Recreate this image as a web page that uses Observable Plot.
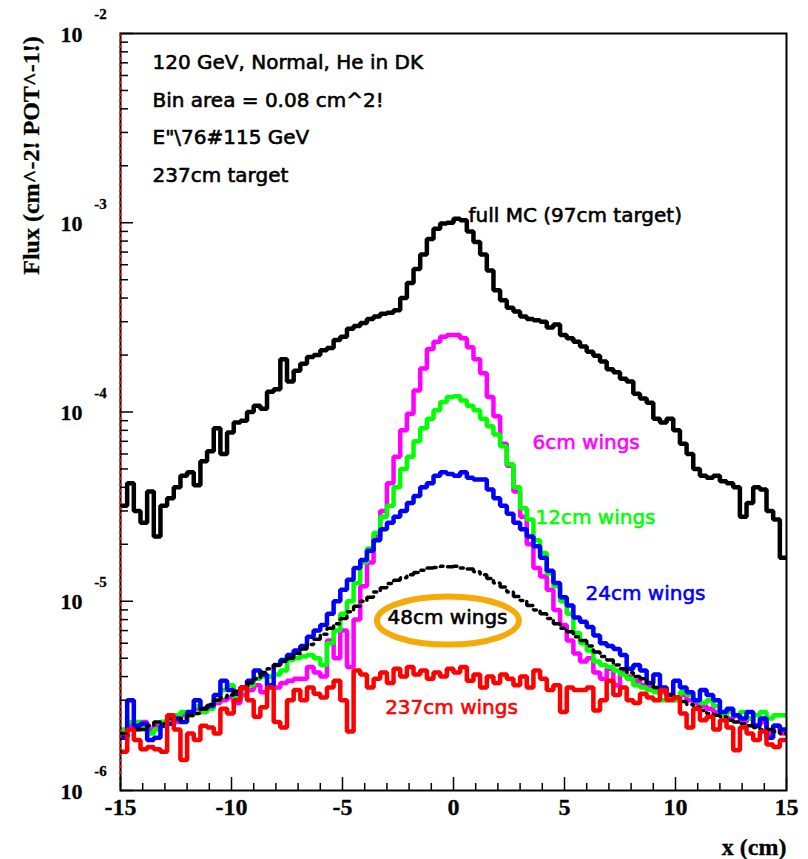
<!DOCTYPE html>
<html><head><meta charset="utf-8">
<script src="https://cdn.jsdelivr.net/npm/d3@7"></script>
<script src="https://cdn.jsdelivr.net/npm/@observablehq/plot@0.6"></script>
<style>body{margin:0;background:#fff} #chart svg{display:block}</style>
</head><body><div id="chart"></div>
<script>
// flux values in units of 1e-6 cm^-2 POT^-1, 100 bins of 0.3 cm from -15 to 15
const fullMC = [32,42,30,26,38,22,32,35,40,46,
 48,41,55,62,82,60,78,88,90,100,
 108,104,128,132,190,145,165,180,195,200,
 212,218,240,250,275,285,295,310,320,330,
 335,345,400,480,570,680,820,930,990,1000,
 1050,1030,900,790,680,560,440,390,355,340,
 320,310,305,300,280,290,255,245,235,222,
 208,198,185,168,162,150,145,125,118,112,
 92,88,92,80,68,60,50,46,45,46,
 43,42,40,28,33,40,39,30,27,17];
const wings6 = [2.0,2.2,2.1,2.3,2.1,2.2,2.3,2.4,2.3,2.5,
 2.5,2.7,2.6,2.8,2.9,3.0,3.1,2.9,3.2,3.4,
 3.6,3.3,3.6,3.5,3.7,3.8,3.9,3.9,4.5,4.2,
 4.0,6.2,5.0,7.0,4.5,8.0,12,16,22,30,
 42,58,80,98,130,170,215,235,250,255,
 255,245,220,190,160,120,95,68,52,38,
 28,20,15,13.5,11.5,9,7.5,6.2,5.3,4.8,
 5.0,4.2,3.9,4.4,3.6,4.3,4.0,3.8,3.6,3.5,
 3.4,3.3,3.2,3.1,3.2,3.0,2.9,2.8,2.7,2.6,
 2.5,2.4,2.5,2.3,2.4,2.2,2.3,2.0,2.2,2.0];
const wings12 = [2.1,2.3,2.3,2.2,2.0,2.1,2.3,2.4,2.5,2.6,
 2.5,2.8,2.6,2.7,3.0,3.4,3.6,3.1,3.4,3.6,
 3.9,4.0,4.0,4.1,4.3,4.9,5.0,5.1,5.2,5.0,
 4.6,6.0,7.0,8.6,10,12.5,16,19,23,28,
 32,40,50,58,70,82,92,102,113,120,
 121,115,108,102,92,84,76,66,53,40,
 31,27,21,18,14,12,10,8.6,6.8,6.0,
 5.5,4.8,4.6,4.5,4.3,4.1,3.9,3.6,3.5,3.4,
 3.3,3.0,3.2,3.0,3.3,3.2,3.0,2.9,3.0,2.8,
 2.5,2.6,2.5,2.6,2.4,2.5,2.6,2.4,2.5,2.5];
const wings24 = [1.9,3.0,2.2,2.25,1.85,1.9,2.2,2.25,2.4,2.3,
 2.6,3.0,2.7,2.8,3.2,3.8,3.4,3.25,3.5,3.8,
 4.3,4.1,3.6,4.6,4.9,5.2,5.5,5.8,6.5,7.0,
 7.5,8.6,10,11.5,13,15,16.5,18.5,21,24,
 26,28,30,33,36,40,42,46,48,47,
 46,48,45,44,44,39,35,32,29,26,
 24,22,19.5,17,14.5,12.5,10.5,9.5,8.2,7.8,
 7.3,6.6,6.0,5.8,5.6,5.2,4.4,4.6,4.3,3.7,
 4.1,3.5,3.2,3.8,3.5,3.3,3.0,3.4,3.2,3.0,
 2.6,2.7,2.5,2.4,2.6,2.2,2.4,1.9,2.2,2.1];
const wings48 = [2.0,1.95,2.1,2.1,2.2,2.3,2.25,2.4,2.35,2.4,
 2.5,2.55,2.7,2.85,3.0,3.1,3.2,3.35,3.5,3.7,
 3.9,4.2,4.4,4.6,4.8,5.0,5.3,5.6,5.9,6.3,
 6.7,7.2,7.6,8.1,8.8,9.4,10.0,10.5,11.2,11.8,
 12.4,12.9,13.3,13.8,14.2,14.6,15.0,15.1,15.3,15.2,
 15.3,15.0,14.8,14.3,13.8,13.2,12.5,11.9,11.2,10.6,
 10.1,9.5,9.0,8.6,8.1,7.6,7.2,6.9,6.5,6.2,
 5.8,5.4,5.1,4.9,4.6,4.4,4.2,4.0,3.9,3.7,
 3.5,3.4,3.2,3.1,2.95,2.85,2.75,2.65,2.55,2.5,
 2.45,2.35,2.3,2.25,2.2,2.15,2.1,2.1,2.05,2.0];
const wings237 = [1.6,2.1,1.85,1.65,1.7,1.65,1.6,2.5,2.1,1.45,
 2.0,1.85,2.2,2.15,2.0,2.7,2.55,3.0,3.5,3.0,
 2.45,2.75,3.5,2.3,2.15,3.0,3.4,3.0,3.5,3.25,
 3.1,3.5,3.8,3.0,2.05,4.3,4.1,3.5,3.9,4.2,
 3.7,4.4,4.0,4.5,4.1,4.3,3.9,4.2,4.0,4.4,
 4.2,4.5,3.8,4.1,3.5,4.0,3.7,4.1,3.9,3.6,
 4.0,3.5,4.3,3.9,3.4,3.6,2.6,3.5,3.4,3.4,
 3.5,2.65,3.0,3.8,3.2,3.5,3.0,2.9,3.25,3.1,
 3.0,3.4,3.0,3.1,2.55,2.15,2.7,2.35,2.45,2.1,
 2.35,2.15,1.63,2.15,2.0,1.85,2.05,1.75,1.7,1.85];

const xMin = -15, xMax = 15, binWidth = 0.3;
const xMajorTicks = [-15, -10, -5, 0, 5, 10, 15];
const yDecades = [1e-6, 1e-5, 1e-4, 1e-3, 1e-2];
const yExponents = ["-6", "-5", "-4", "-3", "-2"];
const headerLines = ["120 GeV, Normal, He in DK", "Bin area = 0.08 cm^2!", 'E"\\76#115 GeV', "237cm target"];

const xMinorTicks = d3.range(xMin, xMax + 1).filter(v => !xMajorTicks.includes(v));
const yMinorTicks = [];
for (const d of yDecades.slice(0, -1)) for (let k = 2; k <= 9; k++) yMinorTicks.push(k * d);

function hist(vals) {
  const pts = vals.map((v, i) => ({x: xMin + binWidth * i, y: v * 1e-6}));
  pts.push({x: xMax, y: vals[vals.length - 1] * 1e-6});
  return pts;
}

const SANS = "DejaVu Sans, sans-serif";
const SERIF = "Liberation Serif, Times New Roman, serif";

const ellipseSymbol = {
  draw(ctx) {
    const rx = 71, ry = 24, k = 0.5523;
    ctx.moveTo(rx, 0);
    ctx.bezierCurveTo(rx, ry * k, rx * k, ry, 0, ry);
    ctx.bezierCurveTo(-rx * k, ry, -rx, ry * k, -rx, 0);
    ctx.bezierCurveTo(-rx, -ry * k, -rx * k, -ry, 0, -ry);
    ctx.bezierCurveTo(rx * k, -ry, rx, -ry * k, rx, 0);
    ctx.closePath();
  }
};

const step = (vals, opts) => Plot.line(hist(vals), {x: "x", y: "y", curve: "step-after", clip: true, strokeLinejoin: "miter", ...opts});
const label = (t, dx, dy, color, anchor = "start") => Plot.text([t], {frameAnchor: "top-left", dx, dy, text: d => d, fill: color, stroke: color, strokeWidth: 0.6, fontFamily: SANS, fontSize: 20, textAnchor: anchor, lineAnchor: "middle"});
const serifText = (opts) => ({fontFamily: SERIF, fontWeight: "bold", fill: "black", stroke: "black", strokeWidth: 0.3, lineAnchor: "middle", ...opts});

const chart = Plot.plot({
  width: 808, height: 859,
  marginLeft: 120, marginRight: 22, marginTop: 33, marginBottom: 69,
  style: {background: "white", overflow: "visible"},
  x: {domain: [xMin, xMax], axis: null},
  y: {type: "log", domain: [1e-6, 1e-2], axis: null},
  marks: [
    step(fullMC, {stroke: "black", strokeWidth: 4.5}),
    step(wings6, {stroke: "#ff00ff", strokeWidth: 4.5}),
    step(wings12, {stroke: "#00ff00", strokeWidth: 4.5}),
    step(wings24, {stroke: "#0000ff", strokeWidth: 4.5}),
    step(wings48, {stroke: "black", strokeWidth: 3.5, strokeDasharray: "10,5,3,5"}),
    step(wings237, {stroke: "#ff0000", strokeWidth: 4.5}),
    Plot.frame({stroke: "black", strokeWidth: 2}),
    Plot.ruleX([xMin], {stroke: "red", strokeWidth: 2, strokeDasharray: "3,3"}),
    Plot.ruleX(xMinorTicks, {x: d => d, y1: 1e-6, y2: 1e-6, insetBottom: 7, stroke: "black", strokeWidth: 1.5}),
    Plot.ruleX(xMajorTicks, {x: d => d, y1: 1e-6, y2: 1e-6, insetBottom: 13, stroke: "black", strokeWidth: 1.5}),
    Plot.ruleY(yMinorTicks, {y: d => d, x1: xMin, x2: xMin, insetRight: -8, stroke: "black", strokeWidth: 1.5}),
    Plot.ruleY(yDecades, {y: d => d, x1: xMin, x2: xMin, insetRight: -13, stroke: "black", strokeWidth: 1.5}),
    Plot.text(xMajorTicks, serifText({x: d => d, y: 1e-6, text: d => String(d), dy: 17, fontSize: 24})),
    Plot.text(yDecades, serifText({x: xMin, y: d => d, text: () => "10", dx: -49, dy: 1, fontSize: 22})),
    Plot.text(yDecades, serifText({x: xMin, y: d => d, text: (d, i) => yExponents[i], dx: -20, dy: -19, fontSize: 15})),
    Plot.text(["Flux (cm^-2! POT^-1!)"], serifText({frameAnchor: "top-left", dx: -89, dy: 122, rotate: -90, text: d => d, fontSize: 24, textAnchor: "middle"})),
    Plot.text(["x (cm)"], serifText({frameAnchor: "bottom-right", dx: 0, dy: 57, text: d => d, fontSize: 24, textAnchor: "end"})),
    ...headerLines.map((t, i) => label(t, 32, 29.5 + 37.5 * i, "black")),
    label("full MC (97cm target)", 348, 182, "black"),
    label("6cm wings", 412, 409, "#ff00ff"),
    label("12cm wings", 415, 484, "#00ff00"),
    label("24cm wings", 465, 560, "#0000ff"),
    Plot.dot([{x: -0.25, y: 7.9e-6}], {x: "x", y: "y", symbol: ellipseSymbol, stroke: "#f5aa0a", strokeWidth: 6, fill: "none"}),
    label("48cm wings", 327, 584, "black", "middle"),
    label("237cm wings", 331, 674, "#ff0000", "middle")
  ]
});
document.getElementById("chart").appendChild(chart);
</script>
</body></html>
